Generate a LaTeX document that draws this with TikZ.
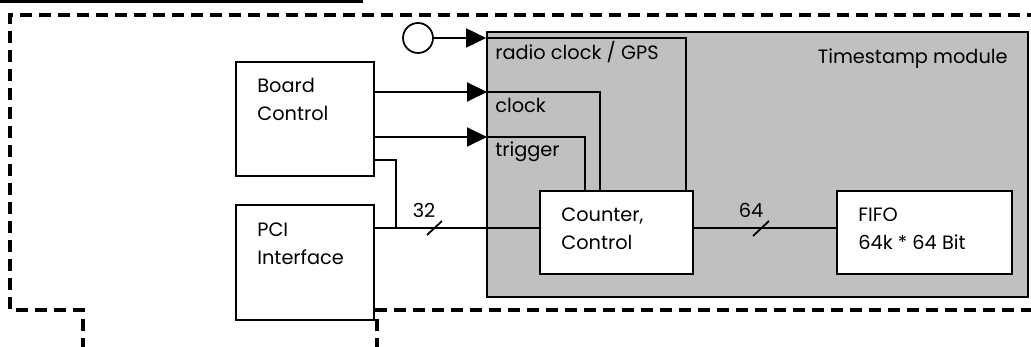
\documentclass[tikz,border=0pt]{standalone}
\usepackage{fontspec}
\setmainfont{Poppins}
\usetikzlibrary{calc,arrows.meta,fit}

\definecolor{modgray}{HTML}{C0C0C0}

\tikzset{
  box/.style={draw, line width=1pt, fill=white, inner sep=0pt},
  wire/.style={line width=1pt},
  sig/.style={line width=1.1pt, -{Triangle[length=0.4cm, width=0.38cm]}},
  frame/.style={line width=1.8pt, dash pattern=on 0.24cm off 0.14cm},
  lbl/.style={anchor=base west, inner sep=0pt, align=left},
}

\begin{document}
\begin{tikzpicture}[x=0.02cm, y=-0.02cm, font=\fontsize{11}{16}\selectfont]
  \useasboundingbox (0,0) rectangle (1031,347);

  % cut-off line above
  \draw[line width=1.8pt] (0,1) -- (363,1);
  \fill (300,-3) circle (6);

  % board outline
  \draw[frame] (83,350) -- (83,310) -- (10,310) -- (10,15) -- (1040,15);
  \draw[frame] (377,350) -- (377,310) -- (1040,310);

  \node[box, fill=modgray, fit={(487,32) (1028,297)}] (module) {};
  \node[box, fit={(236,62) (374,176)}] (board) {};
  \node[box, fit={(236,205) (374,320)}] (pci) {};
  \node[box, fit={(540,191) (693,274)}] (counter) {};
  \node[box, fit={(837,191) (1012,274)}] (fifo) {};
  \node[draw, circle, line width=1pt, minimum size=0.6cm, inner sep=0pt] (gps) at (418,38) {};

  % two-line texts sit on the baseline of their last line
  \node[lbl] (boardtxt) at (257,121) {Board\\Control};
  \node[lbl] (pcitxt) at (257,265) {PCI\\Interface};
  \node[lbl] (countertxt) at (561,250) {Counter,\\Control};
  \node[lbl] (fifotxt) at (858,250) {FIFO\\64k * 64 Bit};
  \node[lbl] (gpstxt) at (495,60) {radio clock / GPS};
  \node[lbl] (clktxt) at (495,113) {clock};
  \node[lbl] (trgtxt) at (495,157) {trigger};
  \node[anchor=base east, inner sep=0pt] (modtxt) at (1008,64) {Timestamp module};

  \coordinate (gpsin) at (module.west |- gps);
  \coordinate (clkin) at (487,92);
  \coordinate (trgin) at (487,137);
  \coordinate (tap) at (396,228);

  \draw[sig] (gps) -- (gpsin);
  \draw[sig] (board.east |- clkin) -- (clkin);
  \draw[sig] (board.east |- trgin) -- (trgin);

  \draw[wire] (gpsin) -| ($(counter.north east)+(-8,0)$);
  \draw[wire] (clkin) -| ($(counter.north west)+(61,0)$);
  \draw[wire] (trgin) -| ($(counter.north west)+(46,0)$);

  % 32 and 64 bit buses
  \draw[wire] (board.east |- 0,160) -| (tap);
  \draw[wire] (pci.east |- tap) -- (counter.west |- tap);
  \draw[wire] (counter.east |- tap) -- (fifo.west |- tap);
  \draw[wire] (427,235) -- (442,221);
  \draw[wire] (753,236) -- (769,221);
  \node[anchor=base, inner sep=0pt] (w32) at (424,218) {32};
  \node[anchor=base, inner sep=0pt] (w64) at (751,218) {64};
\end{tikzpicture}
\end{document}
